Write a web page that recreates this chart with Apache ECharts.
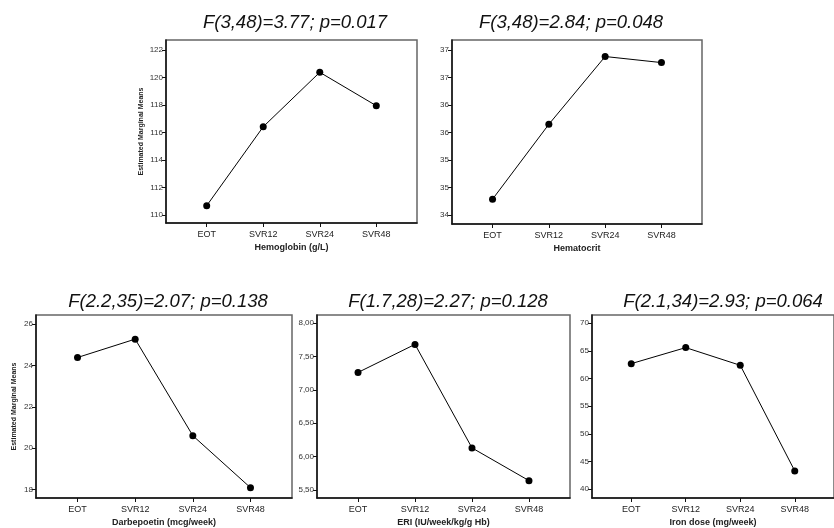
<!DOCTYPE html>
<html>
<head>
<meta charset="utf-8">
<script src="https://cdn.jsdelivr.net/npm/echarts@6/dist/echarts.min.js"></script>
<style>
html,body{margin:0;padding:0;background:#fff;}
#main{width:834px;height:528px;}
</style>
</head>
<body>
<div id="main"></div>
<script>
// ---- data ----
var categories = ['EOT', 'SVR12', 'SVR24', 'SVR48'];

var hemoglobin  = [110.68, 116.42, 120.38, 117.95];
var hematocrit  = [34.29, 35.65, 36.88, 36.77];
var darbepoetin = [24.39, 25.28, 20.60, 18.08];
var eri         = [7.26, 7.68, 6.13, 5.64];
var ironDose    = [62.7, 65.6, 62.4, 43.3];

var hbTicks   = [110, 112, 114, 116, 118, 120, 122];
var hctTicks  = [34, 34.5, 35, 35.5, 36, 36.5, 37];
var darbTicks = [18, 20, 22, 24, 26];
var eriTicks  = [5.5, 6.0, 6.5, 7.0, 7.5, 8.0];
var ironTicks = [40, 45, 50, 55, 60, 65, 70];

var titles = [
  'F(3,48)=3.77; p=0.017',
  'F(3,48)=2.84; p=0.048',
  'F(2.2,35)=2.07; p=0.138',
  'F(1.7,28)=2.27; p=0.128',
  'F(2.1,34)=2.93; p=0.064'
];
var xNames = ['Hemoglobin (g/L)', 'Hematocrit', 'Darbepoetin (mcg/week)', 'ERI (IU/week/kg/g Hb)', 'Iron dose (mg/week)'];
var yName = 'Estimated Marginal Means';

// ---- layout ----
var panels = [
  {values: hemoglobin,  ticks: hbTicks,   min: 109.42, max: 122.73, fmt: function(v){return String(Math.round(v));}, grid: {left:166, top:40, width:251, height:183}, tx:290, ty:8,  yGap:21},
  {values: hematocrit,  ticks: hctTicks,  min: 33.84,  max: 37.18,  fmt: function(v){return String(Math.round(v));}, grid: {left:452, top:40, width:250, height:184}, tx:566, ty:8,  yGap:0},
  {values: darbepoetin, ticks: darbTicks, min: 17.58,  max: 26.45,  fmt: function(v){return String(Math.round(v));}, grid: {left:36,  top:315, width:256, height:183}, tx:163, ty:287, yGap:18},
  {values: eri,         ticks: eriTicks,  min: 5.38,   max: 8.12,   fmt: function(v){return v.toFixed(2).replace('.', ',');}, grid: {left:317, top:315, width:253, height:183}, tx:443, ty:287, yGap:0},
  {values: ironDose,    ticks: ironTicks, min: 38.4,   max: 71.5,   fmt: function(v){return String(Math.round(v));}, grid: {left:592, top:315, width:253, height:183}, tx:718, ty:287, yGap:0}
];

var FONT = '"Liberation Sans", Arial, sans-serif';
var option = {
  animation: false,
  backgroundColor: '#fff',
  title: [], grid: [], xAxis: [], yAxis: [], series: []
};

panels.forEach(function(p, i){
  option.title.push({
    text: titles[i], left: p.tx, top: p.ty, textAlign: 'center',
    textStyle: {fontFamily: FONT, fontStyle: 'italic', fontWeight: 'normal', fontSize: 18.5, color: '#111'}
  });
  option.grid.push(Object.assign({show: true, borderColor: '#666', borderWidth: 1.5, backgroundColor: 'transparent'}, p.grid));
  option.xAxis.push({
    gridIndex: i, type: 'value', min: -0.72, max: 3.72,
    splitLine: {show: false},
    axisLine: {show: true, onZero: false, lineStyle: {color: '#111', width: 1.5}},
    axisTick: {show: true, length: 4, lineStyle: {color: '#111'}, customValues: [0, 1, 2, 3]},
    axisLabel: {customValues: [0, 1, 2, 3], margin: 7, fontFamily: FONT, fontSize: 9, color: '#222',
      formatter: function(v){ return categories[Math.round(v)]; }},
    name: xNames[i], nameLocation: 'middle', nameGap: 20,
    nameTextStyle: {fontFamily: FONT, fontWeight: 'bold', fontSize: 9, color: '#222'}
  });
  var ya = {
    gridIndex: i, type: 'value', min: p.min, max: p.max,
    splitLine: {show: false},
    axisLine: {show: true, onZero: false, lineStyle: {color: '#111', width: 1.5}},
    axisTick: {show: true, length: 4, lineStyle: {color: '#111'}, customValues: p.ticks},
    axisLabel: {customValues: p.ticks, margin: 3, fontFamily: FONT, fontSize: 8, color: '#333', formatter: p.fmt}
  };
  if (p.yGap) {
    ya.name = yName; ya.nameLocation = 'middle'; ya.nameGap = p.yGap; ya.nameRotate = 90;
    ya.nameTextStyle = {fontFamily: FONT, fontWeight: 'bold', fontSize: 7, color: '#222'};
  }
  option.yAxis.push(ya);
  option.series.push({
    type: 'line', xAxisIndex: i, yAxisIndex: i,
    data: p.values.map(function(v, k){ return [k, v]; }),
    symbol: 'circle', symbolSize: 7,
    itemStyle: {color: '#000'},
    lineStyle: {color: '#000', width: 1}
  });
});

var chart = echarts.init(document.getElementById('main'), null, {renderer: 'canvas'});
chart.setOption(option);
</script>
</body>
</html>
